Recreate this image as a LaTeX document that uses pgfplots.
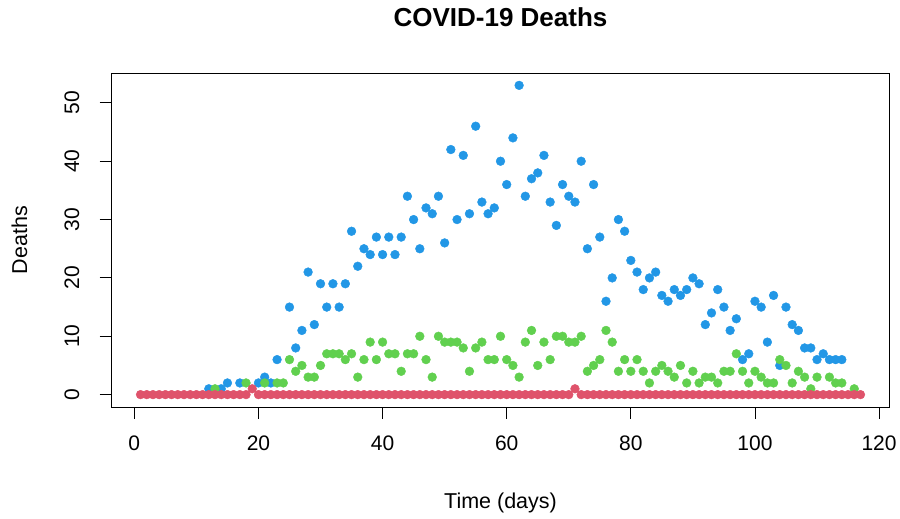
\documentclass[border=0pt]{standalone}
\usepackage{fontspec}
\setmainfont{Liberation Sans}
\usepackage{pgfplots}
\pgfplotsset{compat=1.18}

\definecolor{rblue}{HTML}{2297E6}
\definecolor{rgreen}{HTML}{61D04F}
\definecolor{rred}{HTML}{DF536B}

\begin{document}
\begin{tikzpicture}
\useasboundingbox (0,0) rectangle (900pt,519pt);
\begin{axis}[
  at={(111.5pt,112pt)}, anchor=south west,
  scale only axis, width=778pt, height=334pt,
  xmin=-3.68, xmax=121.68, ymin=-2.12, ymax=55.12,
  xtick={0,20,...,120}, ytick={0,10,...,50},
  tick pos=left, tick align=outside, major tick length=12pt,
  axis line style={line width=0.9pt},
  every tick/.style={black, line width=0.9pt},
  tick label style={font=\fontsize{21}{24}\selectfont},
  /pgf/number format/assume math mode=true,
  yticklabel style={rotate=90, anchor=south, inner sep=0pt},
  xticklabel style={anchor=north, inner sep=0pt},
  yticklabel shift=20pt,
  xticklabel shift=17pt,
  title={COVID-19 Deaths},
  title style={at={(axis description cs:0.5,1.1227)}, anchor=base,
    font=\fontsize{26}{30}\selectfont\bfseries},
  xlabel={Time (days)},
  xlabel style={at={(axis description cs:0.5,-0.3024)}, anchor=base,
    font=\fontsize{21.5}{25}\selectfont},
  ylabel={Deaths},
  ylabel style={at={(axis description cs:-0.1086,0.5)}, anchor=base,
    font=\fontsize{21.5}{25}\selectfont},
  only marks,
]
% blue series
\addplot[mark=*, mark size=4.4pt, color=rblue] coordinates {
  (12,1) (14,1) (15,2) (17,2) (20,2) (21,3) (22,2) (23,6) (25,15) (26,8)
  (27,11) (28,21) (29,12) (30,19) (31,15) (32,19) (33,15) (34,19) (35,28) (36,22)
  (37,25) (38,24) (39,27) (40,24) (41,27) (42,24) (43,27) (44,34) (45,30) (46,25)
  (47,32) (48,31) (49,34) (50,26) (51,42) (52,30) (53,41) (54,31) (55,46) (56,33)
  (57,31) (58,32) (59,40) (60,36) (61,44) (62,53) (63,34) (64,37) (65,38) (66,41)
  (67,33) (68,29) (69,36) (70,34) (71,33) (72,40) (73,25) (74,36) (75,27) (76,16)
  (77,20) (78,30) (79,28) (80,23) (81,21) (82,18) (83,20) (84,21) (85,17) (86,16)
  (87,18) (88,17) (89,18) (90,20) (91,19) (92,12) (93,14) (94,18) (95,15) (96,11)
  (97,13) (98,6) (99,7) (100,16) (101,15) (102,9) (103,17) (104,5) (105,15) (106,12)
  (107,11) (108,8) (109,8) (110,6) (111,7) (112,6) (113,6) (114,6)
};
% green series
\addplot[mark=*, mark size=4.4pt, color=rgreen] coordinates {
  (13,1) (18,2) (21,2) (23,2) (24,2) (25,6) (26,4) (27,5) (28,3) (29,3)
  (30,5) (31,7) (32,7) (33,7) (34,6) (35,7) (36,3) (37,6) (38,9) (39,6)
  (40,9) (41,7) (42,7) (43,4) (44,7) (45,7) (46,10) (47,6) (48,3) (49,10)
  (50,9) (51,9) (52,9) (53,8) (54,4) (55,8) (56,9) (57,6) (58,6) (59,10)
  (60,6) (61,5) (62,3) (63,9) (64,11) (65,5) (66,9) (67,6) (68,10) (69,10)
  (70,9) (71,9) (72,10) (73,4) (74,5) (75,6) (76,11) (77,9) (78,4) (79,6)
  (80,4) (81,6) (82,4) (83,2) (84,4) (85,5) (86,4) (87,3) (88,5) (89,2)
  (90,4) (91,2) (92,3) (93,3) (94,2) (95,4) (96,4) (97,7) (98,4) (99,2)
  (100,4) (101,3) (102,2) (103,2) (104,6) (105,5) (106,2) (107,4) (108,3) (109,1)
  (110,3) (112,3) (113,2) (114,2) (116,1)
};
% red series
\addplot[mark=*, mark size=4.4pt, color=rred] coordinates {
  (1,0) (2,0) (3,0) (4,0) (5,0) (6,0) (7,0) (8,0) (9,0) (10,0)
  (11,0) (12,0) (13,0) (14,0) (15,0) (16,0) (17,0) (18,0) (19,1) (20,0)
  (21,0) (22,0) (23,0) (24,0) (25,0) (26,0) (27,0) (28,0) (29,0) (30,0)
  (31,0) (32,0) (33,0) (34,0) (35,0) (36,0) (37,0) (38,0) (39,0) (40,0)
  (41,0) (42,0) (43,0) (44,0) (45,0) (46,0) (47,0) (48,0) (49,0) (50,0)
  (51,0) (52,0) (53,0) (54,0) (55,0) (56,0) (57,0) (58,0) (59,0) (60,0)
  (61,0) (62,0) (63,0) (64,0) (65,0) (66,0) (67,0) (68,0) (69,0) (70,0)
  (71,1) (72,0) (73,0) (74,0) (75,0) (76,0) (77,0) (78,0) (79,0) (80,0)
  (81,0) (82,0) (83,0) (84,0) (85,0) (86,0) (87,0) (88,0) (89,0) (90,0)
  (91,0) (92,0) (93,0) (94,0) (95,0) (96,0) (97,0) (98,0) (99,0) (100,0)
  (101,0) (102,0) (103,0) (104,0) (105,0) (106,0) (107,0) (108,0) (109,0) (110,0)
  (111,0) (112,0) (113,0) (114,0) (115,0) (116,0) (117,0)
};
\end{axis}
\end{tikzpicture}
\end{document}
